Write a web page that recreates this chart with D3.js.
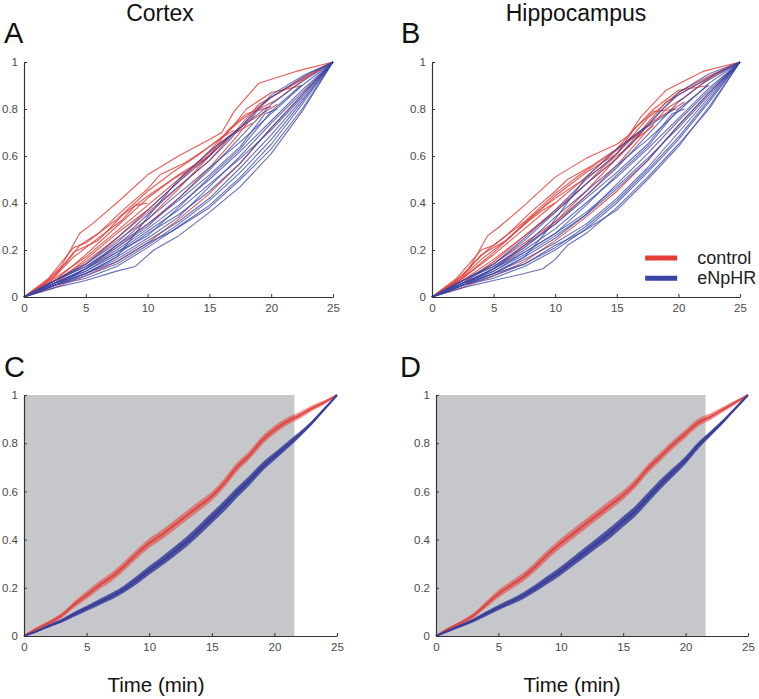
<!DOCTYPE html>
<html><head><meta charset="utf-8">
<script src="https://cdn.jsdelivr.net/npm/d3@7"></script>
<style>
html,body{margin:0;padding:0;background:#fff;}
svg{display:block;}
text{font-family:"Liberation Sans",Arial,Helvetica,sans-serif;}
</style></head>
<body>
<script>
// ---------- DATA ----------
const xTicks = [0, 5, 10, 15, 20, 25];
const yTicks = [0, 0.2, 0.4, 0.6, 0.8, 1];
const yTickLabels = ["0", "0.2", "0.4", "0.6", "0.8", "1"];
const regionTitles = ["Cortex", "Hippocampus"];
const panelLetters = ["A", "B", "C", "D"];
const legendLabels = ["control", "eNpHR"];
const xLabel = "Time (min)";
const shadeEnd = 21.6;

// Individual animals, [time (min), cumulative fraction]
const cortexControl = [
 [[0,0],[1.5,0.05],[3,0.13],[4.5,0.27],[5.5,0.31],[7.5,0.4],[10,0.52],[12.5,0.6],[15,0.67],[16,0.7],[17,0.79],[19,0.91],[22,0.96],[25,1]],
 [[0,0],[2,0.07],[3.5,0.15],[4.5,0.22],[6,0.27],[8,0.37],[10,0.46],[11,0.52],[13,0.57],[15,0.64],[16.5,0.7],[18,0.8],[20,0.87],[22.5,0.9]],
 [[0,0],[2,0.06],[4,0.17],[6,0.25],[8,0.33],[9,0.39],[10,0.4]],
 [[0,0],[2.5,0.07],[5,0.18],[7.5,0.3],[10,0.42],[12.5,0.52],[15,0.6],[16.5,0.71],[18,0.78],[20,0.81]],
 [[0,0],[2.5,0.08],[5,0.17],[7.5,0.28],[10,0.39],[12.5,0.5],[14,0.57],[16,0.66],[18,0.74],[20.5,0.82]],
 [[0,0],[2.5,0.06],[5,0.14],[7.5,0.24],[10,0.33],[12.5,0.46],[15,0.6],[16.5,0.68],[18.5,0.74]],
 [[0,0],[2.5,0.07],[5,0.15],[7.5,0.25],[10,0.36],[12.5,0.47],[15,0.58],[17,0.7],[19,0.82],[21,0.88],[25,1]],
 [[0,0],[2.5,0.04],[5,0.09],[7.5,0.15],[10,0.23],[12.5,0.33],[15,0.44],[17.5,0.57],[20,0.72],[22.5,0.86],[25,1]],
 [[0,0],[2,0.08],[4,0.21],[5,0.23],[7.5,0.33],[10,0.45],[12,0.53],[14,0.6],[15.5,0.66],[17,0.71]],
 [[0,0],[2.5,0.05],[5,0.12],[7.5,0.21],[10,0.31],[12.5,0.42],[15,0.55],[17,0.67],[19,0.8],[20.5,0.84],[23,0.94],[25,1]],
 [[0,0],[2.5,0.09],[4,0.19],[6,0.24],[8,0.35],[10,0.43],[12,0.5],[14,0.56],[16,0.65],[17.5,0.72]],
 [[0,0],[2.5,0.06],[5,0.16],[7.5,0.27],[10,0.37],[12.5,0.49],[15,0.62],[16,0.68],[17.5,0.75],[20,0.85],[22.5,0.93],[25,1]]
];
const cortexHalo = [
 [[0,0],[2.5,0.04],[5,0.07],[7.5,0.11],[9,0.13],[10.5,0.2],[12.5,0.26],[15,0.36],[17.5,0.47],[20,0.61],[22.5,0.79],[25,1]],
 [[0,0],[2.5,0.05],[5,0.08],[7.5,0.13],[10,0.21],[12.5,0.3],[15,0.39],[17.5,0.51],[20,0.65],[22.5,0.82],[25,1]],
 [[0,0],[2.5,0.05],[5,0.1],[7.5,0.16],[10,0.24],[12.5,0.32],[15,0.42],[17.5,0.55],[20,0.69],[22.5,0.84],[25,1]],
 [[0,0],[2.5,0.06],[5,0.11],[7.5,0.18],[10,0.27],[12.5,0.35],[15,0.45],[17.5,0.57],[20,0.72],[22.5,0.86],[25,1]],
 [[0,0],[2.5,0.06],[5,0.12],[7.5,0.2],[10,0.29],[12.5,0.39],[15,0.5],[17.5,0.62],[20,0.75],[22.5,0.88],[25,1]],
 [[0,0],[2.5,0.07],[5,0.13],[7.5,0.22],[10,0.33],[12.5,0.44],[15,0.55],[17.5,0.66],[20,0.78],[22.5,0.9],[25,1]],
 [[0,0],[2.5,0.07],[5,0.14],[7.5,0.25],[10,0.37],[12.5,0.49],[15,0.6],[17,0.7],[19.7,0.81]],
 [[0,0],[2.5,0.05],[5,0.1],[7.5,0.17],[9,0.27],[10,0.34],[12.5,0.5],[15,0.62],[17.5,0.72],[20,0.86],[22.5,0.94],[25,1]],
 [[0,0],[2.5,0.05],[5,0.12],[7.5,0.22],[10,0.31],[12.5,0.41],[15,0.52],[17.5,0.64],[19.5,0.78],[20.5,0.8]],
 [[0,0],[2.5,0.06],[5,0.1],[7.5,0.17],[10,0.25],[12.5,0.34],[15,0.47],[17.5,0.6],[20,0.74],[22.5,0.87],[25,1]],
 [[0,0],[2.5,0.05],[5,0.09],[7.5,0.14],[10,0.22],[12.5,0.31],[15,0.41],[17.5,0.53],[20,0.67],[22.5,0.83],[25,1]],
 [[0,0],[2.5,0.07],[5,0.13],[7.5,0.21],[10,0.3],[12.5,0.42],[15,0.54],[17.5,0.68],[20,0.82],[22,0.9],[25,1]],
 [[0,0],[2.5,0.06],[5,0.11],[7.5,0.19],[10,0.28],[12.5,0.37],[15,0.48],[17.5,0.59],[20,0.71],[22.5,0.85],[25,1]],
 [[0,0],[2.5,0.05],[5,0.1],[7.5,0.15],[10,0.23],[12,0.28],[15,0.38],[17.5,0.5],[20,0.63],[22.5,0.8],[25,1]],
 [[0,0],[2.5,0.07],[5,0.14],[7.5,0.23],[10,0.35],[12.5,0.47],[15,0.58],[16.5,0.66],[18.5,0.78],[20,0.85],[23,0.95],[25,1]],
 [[0,0],[2.5,0.06],[5,0.12],[7.5,0.19],[10,0.26],[12.5,0.38],[15,0.51],[17.5,0.63],[20,0.79],[22.4,0.9]]
];
const hippoControl = [
 [[0,0],[1.5,0.05],[3,0.12],[4.5,0.26],[5.5,0.3],[7.5,0.39],[10,0.51],[12.5,0.59],[15,0.65],[16,0.69],[17,0.77],[19,0.88],[22,0.96],[25,1]],
 [[0,0],[2,0.07],[3.5,0.15],[4.5,0.2],[6,0.26],[8,0.36],[10,0.45],[11,0.5],[13,0.56],[15,0.63],[16.5,0.72],[18,0.8],[20,0.88],[22.5,0.9]],
 [[0,0],[2,0.06],[4,0.16],[6,0.24],[8,0.33],[9,0.37],[10,0.4]],
 [[0,0],[2.5,0.08],[5,0.19],[7.5,0.31],[10,0.43],[12.5,0.53],[15,0.61],[16.5,0.72],[18,0.79],[20,0.8]],
 [[0,0],[2.5,0.08],[5,0.18],[7.5,0.29],[10,0.4],[12.5,0.51],[14,0.58],[16,0.67],[18,0.75],[20.5,0.83]],
 [[0,0],[2.5,0.06],[5,0.14],[7.5,0.23],[10,0.32],[12.5,0.45],[15,0.59],[16.5,0.67],[18,0.73]],
 [[0,0],[2.5,0.07],[5,0.16],[7.5,0.26],[10,0.37],[12.5,0.48],[15,0.59],[17,0.71],[19,0.83],[21,0.89],[25,1]],
 [[0,0],[2.5,0.04],[5,0.09],[7.5,0.15],[10,0.24],[12.5,0.34],[15,0.45],[17.5,0.58],[20,0.73],[22.5,0.87],[25,1]],
 [[0,0],[2,0.08],[4,0.2],[5,0.22],[7.5,0.32],[10,0.44],[12,0.52],[14,0.59],[15.5,0.65],[17,0.7]],
 [[0,0],[2.5,0.05],[5,0.12],[7.5,0.21],[10,0.32],[12.5,0.43],[15,0.56],[17,0.68],[19,0.8],[20.5,0.85],[23,0.95],[25,1]],
 [[0,0],[2.5,0.09],[4,0.18],[6,0.24],[8,0.34],[10,0.42],[12,0.49],[14,0.56],[16,0.64],[17.5,0.73]],
 [[0,0],[2.5,0.06],[5,0.15],[7.5,0.26],[10,0.36],[12.5,0.48],[15,0.61],[16,0.67],[17.5,0.76],[20,0.87],[22.5,0.94],[25,1]]
];
const hippoHalo = [
 [[0,0],[2.5,0.04],[5,0.07],[7.5,0.1],[9,0.12],[10,0.16],[11,0.22],[12.5,0.27],[15,0.38],[17.5,0.51],[20,0.65],[22.5,0.8],[25,1]],
 [[0,0],[2.5,0.05],[5,0.08],[7.5,0.13],[10,0.2],[12.5,0.29],[15,0.4],[17.5,0.53],[20,0.67],[22.5,0.83],[25,1]],
 [[0,0],[2.5,0.05],[5,0.1],[7.5,0.16],[10,0.23],[12.5,0.31],[15,0.42],[17.5,0.55],[20,0.7],[22.5,0.85],[25,1]],
 [[0,0],[2.5,0.06],[5,0.11],[7.5,0.18],[10,0.26],[12.5,0.35],[15,0.46],[17.5,0.58],[20,0.73],[22.5,0.87],[25,1]],
 [[0,0],[2.5,0.06],[5,0.12],[7.5,0.2],[10,0.29],[12.5,0.4],[15,0.51],[17.5,0.63],[20,0.76],[22.5,0.89],[25,1]],
 [[0,0],[2.5,0.07],[5,0.13],[7.5,0.22],[10,0.34],[12.5,0.45],[15,0.56],[17.5,0.67],[20,0.79],[22.5,0.91],[25,1]],
 [[0,0],[2.5,0.07],[5,0.14],[7.5,0.25],[10,0.37],[12.5,0.5],[15,0.61],[16.5,0.69],[19.7,0.8]],
 [[0,0],[2.5,0.05],[5,0.1],[7.5,0.17],[9,0.26],[10,0.33],[12.5,0.51],[15,0.63],[17.5,0.73],[20,0.87],[22.5,0.95],[25,1]],
 [[0,0],[2.5,0.05],[5,0.12],[7.5,0.22],[10,0.31],[12.5,0.42],[15,0.53],[17.5,0.65],[19.5,0.78],[20.5,0.8]],
 [[0,0],[2.5,0.06],[5,0.1],[7.5,0.17],[10,0.25],[12.5,0.35],[15,0.48],[17.5,0.61],[20,0.75],[22.5,0.88],[25,1]],
 [[0,0],[2.5,0.05],[5,0.09],[7.5,0.14],[10,0.21],[12.5,0.3],[15,0.41],[17.5,0.54],[20,0.68],[22.5,0.84],[25,1]],
 [[0,0],[2.5,0.07],[5,0.13],[7.5,0.21],[10,0.31],[12.5,0.43],[15,0.55],[17.5,0.69],[20,0.83],[22,0.91],[25,1]],
 [[0,0],[2.5,0.06],[5,0.11],[7.5,0.19],[10,0.27],[12.5,0.36],[15,0.47],[17.5,0.59],[20,0.72],[22.5,0.86],[25,1]],
 [[0,0],[2.5,0.05],[5,0.1],[7.5,0.14],[10,0.22],[12,0.27],[15,0.37],[17.5,0.5],[20,0.64],[22.5,0.81],[25,1]],
 [[0,0],[2.5,0.07],[5,0.14],[7.5,0.24],[10,0.36],[12.5,0.48],[15,0.59],[16.5,0.67],[18.5,0.79],[20,0.86],[23,0.95],[25,1]],
 [[0,0],[2.5,0.06],[5,0.12],[7.5,0.19],[10,0.27],[12.5,0.39],[15,0.52],[17.5,0.64],[20,0.8],[22.4,0.9]]
];

// Group means (C, D) at 1-min steps, with half-width of shaded band
const meanTime = [0,1,2,3,4,5,6,7,8,9,10,11,12,13,14,15,16,17,18,19,20,21,22,23,24,25];
const cortexControlMean = [0,0.03,0.055,0.085,0.13,0.17,0.21,0.245,0.29,0.34,0.385,0.42,0.46,0.5,0.54,0.58,0.635,0.7,0.75,0.81,0.855,0.89,0.915,0.945,0.97,1];
const cortexHaloMean    = [0,0.02,0.042,0.063,0.09,0.115,0.14,0.165,0.195,0.232,0.272,0.31,0.35,0.392,0.44,0.49,0.54,0.595,0.645,0.7,0.745,0.79,0.835,0.885,0.942,1];
const hippoControlMean  = [0,0.03,0.055,0.085,0.13,0.175,0.21,0.245,0.29,0.34,0.385,0.425,0.465,0.505,0.545,0.585,0.635,0.695,0.745,0.795,0.84,0.885,0.91,0.94,0.97,1];
const hippoHaloMean     = [0,0.022,0.043,0.065,0.092,0.118,0.142,0.168,0.2,0.235,0.27,0.31,0.35,0.39,0.43,0.475,0.52,0.575,0.63,0.68,0.73,0.79,0.84,0.89,0.945,1];
const controlSem = [0,0.005,0.008,0.01,0.013,0.016,0.017,0.018,0.019,0.019,0.02,0.02,0.02,0.02,0.02,0.019,0.019,0.019,0.018,0.018,0.017,0.016,0.014,0.011,0.008,0];
const haloSem    = [0,0.004,0.006,0.008,0.01,0.011,0.012,0.014,0.015,0.017,0.018,0.019,0.02,0.021,0.022,0.022,0.022,0.021,0.02,0.018,0.016,0.014,0.011,0.008,0.005,0];

// ---------- STYLE / LAYOUT ----------
const RED = "#e43d37", BLUE = "#3a46a6", BAND_BLUE = "#383e9a", GRAY = "#c6c7cb";
const W = 759, H = 699;
const svg = d3.select("body").append("svg").attr("width", W).attr("height", H);

const panels = [
  {x0: 24,  x1: 333, y0: 297, y1: 62,  kind: "lines", ctrl: cortexControl, halo: cortexHalo},
  {x0: 432, x1: 740, y0: 297, y1: 62,  kind: "lines", ctrl: hippoControl, halo: hippoHalo, legend: true},
  {x0: 24,  x1: 337, y0: 636, y1: 395, kind: "mean", ctrl: cortexControlMean, halo: cortexHaloMean},
  {x0: 436, x1: 748, y0: 636, y1: 395, kind: "mean", ctrl: hippoControlMean, halo: hippoHaloMean}
];

panels.forEach((p, i) => {
  const x = d3.scaleLinear().domain([0, 25]).range([p.x0, p.x1]);
  const y = d3.scaleLinear().domain([0, 1]).range([p.y0, p.y1]);
  const g = svg.append("g");

  if (p.kind === "lines") {
    const line = d3.line().x(d => x(d[0])).y(d => y(d[1])).curve(d3.curveLinear);
    g.selectAll("path.ctrl").data(p.ctrl).join("path").attr("class", "ctrl")
      .attr("d", line).attr("fill", "none").attr("stroke", RED)
      .attr("stroke-width", 1.1).attr("stroke-opacity", 0.85).attr("stroke-linejoin", "round");
    g.selectAll("path.halo").data(p.halo).join("path").attr("class", "halo")
      .attr("d", line).attr("fill", "none").attr("stroke", BLUE)
      .attr("stroke-width", 1.1).attr("stroke-opacity", 0.78).attr("stroke-linejoin", "round");
  } else {
    g.append("rect").attr("x", x(0)).attr("y", y(1))
      .attr("width", x(shadeEnd) - x(0)).attr("height", y(0) - y(1)).attr("fill", GRAY);
    const mk = (mean, sem) => meanTime.map((t, k) => ({t, m: mean[k], s: sem[k]}));
    const area = d3.area().x(d => x(d.t)).y0(d => y(d.m - d.s)).y1(d => y(d.m + d.s)).curve(d3.curveMonotoneX);
    const mline = d3.line().x(d => x(d.t)).y(d => y(d.m)).curve(d3.curveMonotoneX);
    const cd = mk(p.ctrl, controlSem), hd = mk(p.halo, haloSem);
    g.append("path").attr("d", area(cd)).attr("fill", RED).attr("fill-opacity", 0.55);
    g.append("path").attr("d", mline(cd)).attr("fill", "none").attr("stroke", RED).attr("stroke-width", 2.2).attr("stroke-opacity", 0.85);
    g.append("path").attr("d", area(hd)).attr("fill", BAND_BLUE).attr("fill-opacity", 0.85);
    g.append("path").attr("d", mline(hd)).attr("fill", "none").attr("stroke", BAND_BLUE).attr("stroke-width", 2.2);
  }

  // axes (MATLAB style: inward ticks, no box)
  const ax = g.append("g").attr("transform", `translate(0,${p.y0})`)
    .call(d3.axisBottom(x).tickValues(xTicks).tickFormat(d3.format("d")).tickSize(-3).tickSizeOuter(0).tickPadding(7));
  const ay = g.append("g").attr("transform", `translate(${p.x0},0)`)
    .call(d3.axisLeft(y).tickValues(yTicks).tickFormat((d, k) => yTickLabels[k]).tickSize(-3).tickSizeOuter(0).tickPadding(6));
  [ax, ay].forEach(a => {
    a.select(".domain").attr("stroke", "#333").attr("stroke-width", 1.2);
    a.selectAll(".tick line").attr("stroke", "#333");
    a.selectAll(".tick text").attr("fill", "#4a4a4a").style("font-size", "11.5px")
      .style("font-family", "'Liberation Sans', Arial, sans-serif");
  });

  if (p.legend) {
    const leg = [{lab: legendLabels[0], c: RED, v: 0.166}, {lab: legendLabels[1], c: BLUE, v: 0.08}];
    leg.forEach(l => {
      g.append("line").attr("x1", x(17.3)).attr("x2", x(19.9)).attr("y1", y(l.v)).attr("y2", y(l.v))
        .attr("stroke", l.c).attr("stroke-width", 5);
      g.append("text").attr("x", x(19.9) + 20).attr("y", y(l.v) + 6)
        .text(l.lab).style("font-size", "18px").attr("fill", "#222");
    });
  }
});

// titles and letters
svg.append("text").attr("x", 160).attr("y", 21).attr("text-anchor", "middle")
  .style("font-size", "23px").attr("fill", "#111").text(regionTitles[0]);
svg.append("text").attr("x", 576).attr("y", 21).attr("text-anchor", "middle")
  .style("font-size", "23px").attr("fill", "#111").text(regionTitles[1]);
const letterPos = [[4, 43], [401, 43], [4, 377], [400, 377]];
panelLetters.forEach((L, i) => {
  svg.append("text").attr("x", letterPos[i][0]).attr("y", letterPos[i][1])
    .style("font-size", "29px").attr("fill", "#111").text(L);
});
svg.append("text").attr("x", 156).attr("y", 692).attr("text-anchor", "middle")
  .style("font-size", "20.5px").attr("fill", "#111").text(xLabel);
svg.append("text").attr("x", 572).attr("y", 692).attr("text-anchor", "middle")
  .style("font-size", "20.5px").attr("fill", "#111").text(xLabel);
</script>
</body></html>
